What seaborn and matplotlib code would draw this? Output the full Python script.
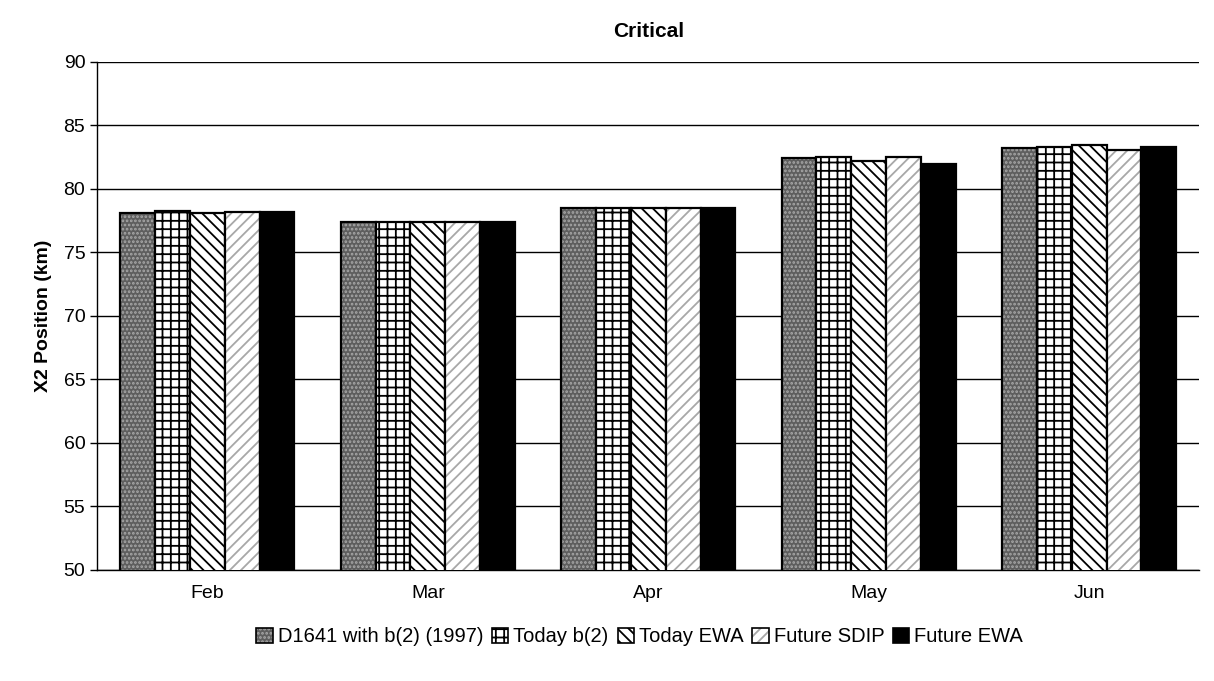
import numpy as np
import pandas as pd
import matplotlib
matplotlib.use("Agg")
import matplotlib.pyplot as plt
import seaborn as sns
from matplotlib.patches import Patch

months = ["Feb", "Mar", "Apr", "May", "Jun"]
scenarios = ["D1641 with b(2) (1997)", "Today b(2)", "Today EWA", "Future SDIP", "Future EWA"]
d1641 = [78.1, 77.4, 78.5, 82.4, 83.2]
today_b2 = [78.3, 77.4, 78.5, 82.5, 83.3]
today_ewa = [78.1, 77.4, 78.5, 82.2, 83.5]
future_sdip = [78.2, 77.4, 78.5, 82.5, 83.1]
future_ewa = [78.2, 77.4, 78.5, 82.0, 83.3]

series = [d1641, today_b2, today_ewa, future_sdip, future_ewa]
df = pd.DataFrame({
    "Month": months * len(scenarios),
    "Scenario": np.repeat(scenarios, len(months)).tolist(),
    "X2": sum(series, []),
})

sns.set_theme(style="white")
plt.rcParams["font.family"] = ["Liberation Sans", "DejaVu Sans"]
plt.rcParams["hatch.linewidth"] = 1.3
plt.rcParams["text.color"] = "black"
plt.rcParams["axes.labelcolor"] = "black"
plt.rcParams["xtick.color"] = "black"
plt.rcParams["ytick.color"] = "black"

fig = plt.figure(figsize=(12.14, 6.81), dpi=100)
ax = fig.add_axes([0.080, 0.163, 0.908, 0.746])

faces = ["#5e5e5e", "white", "white", "white", "black"]
hatches = ["....", "++", "\\\\\\", "///", ""]
hatch_cols = ["#a8a8a8", "black", "black", "#a8a8a8", "black"]

sns.barplot(data=df, x="Month", y="X2", hue="Scenario", order=months,
            hue_order=scenarios, ax=ax, width=0.79, gap=0,
            palette=faces, edgecolor="black", linewidth=1.6, legend=False,
            zorder=3)


def style_patch(p, i):
    p.set_facecolor(faces[i])
    p.set_edgecolor("black")
    p.set_hatch(hatches[i])
    p._hatch_color = matplotlib.colors.to_rgba(hatch_cols[i])


for i, cont in enumerate(ax.containers):
    for p in cont.patches:
        style_patch(p, i)

ax.set_ylim(50, 90)
ax.set_xlim(-0.5, len(months) - 0.5)
ax.set_yticks(np.arange(50, 91, 5))
ax.yaxis.grid(True, color="black", linewidth=1.0, zorder=0)
ax.set_axisbelow(True)
for s in ["top", "right"]:
    ax.spines[s].set_visible(False)
for s in ["left", "bottom"]:
    ax.spines[s].set_color("black")
    ax.spines[s].set_linewidth(1.0)

ax.set_xticks(range(len(months)))
ax.set_xticklabels(months, fontsize=14)
ax.set_xticks(np.arange(-0.5, len(months), 1), minor=True)
ax.tick_params(axis="x", which="major", length=0, pad=11, labelcolor="black")
ax.tick_params(axis="x", which="minor", length=5, width=1, color="black", direction="out")
ax.tick_params(axis="y", which="major", length=5, width=1, color="black",
               direction="out", labelsize=14, left=True, labelcolor="black")
ax.set_xlabel("")
ax.set_ylabel("X2 Position (km)", fontsize=14, fontweight="bold", labelpad=8, color="black")
ax.set_title("Critical", fontsize=15, fontweight="bold", pad=18, color="black")

handles = []
for i in range(len(scenarios)):
    h = Patch(facecolor=faces[i], hatch=hatches[i], edgecolor="black", linewidth=1.2)
    handles.append(h)
leg = fig.legend(handles, scenarios, loc="center", bbox_to_anchor=(0.527, 0.065), ncol=5,
                 frameon=False, fontsize=14.5, handlelength=0.8, handleheight=0.8,
                 handletextpad=0.25, columnspacing=0.45)
for i, h in enumerate(leg.get_patches()):
    h._hatch_color = matplotlib.colors.to_rgba(hatch_cols[i])
for t in leg.get_texts():
    t.set_color("black")

fig.savefig("out.png", dpi=100, facecolor="white")
